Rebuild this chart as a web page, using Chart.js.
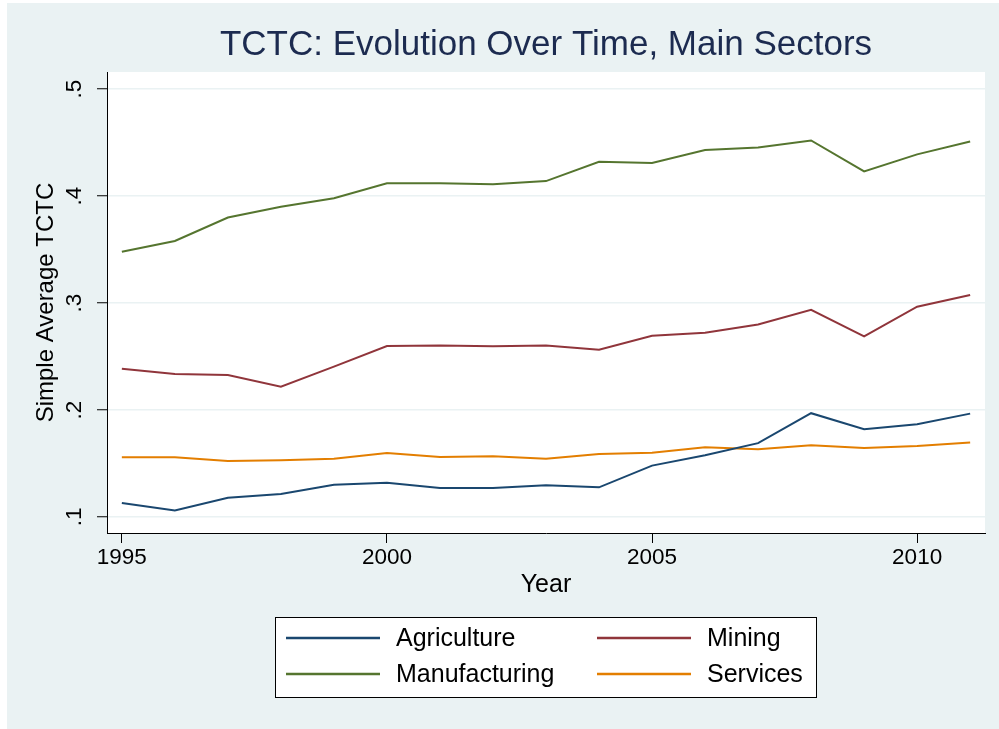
<!DOCTYPE html>
<html>
<head>
<meta charset="utf-8">
<script src="https://cdn.jsdelivr.net/npm/chart.js@4.4.1/dist/chart.umd.min.js"></script>
<style>
  body { margin: 0; background: #fff; }
  canvas { display: block; }
</style>
</head>
<body>
<canvas id="tctcChart" width="999" height="729"></canvas>
<script>
// data
const years = [1995, 1996, 1997, 1998, 1999, 2000, 2001, 2002, 2003, 2004, 2005, 2006, 2007, 2008, 2009, 2010, 2011];
const agriculture = [0.113, 0.106, 0.118, 0.1215, 0.130, 0.132, 0.127, 0.127, 0.1296, 0.1277, 0.148, 0.1576, 0.169, 0.197, 0.182, 0.1866, 0.1966];
const mining = [0.2386, 0.2336, 0.2327, 0.2218, 0.2405, 0.2598, 0.2604, 0.2595, 0.2604, 0.2564, 0.2694, 0.2722, 0.280, 0.2937, 0.2689, 0.2966, 0.3075];
const manufacturing = [0.348, 0.358, 0.380, 0.390, 0.398, 0.412, 0.412, 0.411, 0.414, 0.432, 0.431, 0.443, 0.4455, 0.452, 0.423, 0.439, 0.451];
const services = [0.1558, 0.1558, 0.1523, 0.153, 0.1545, 0.1598, 0.156, 0.1567, 0.1545, 0.1589, 0.160, 0.1651, 0.1633, 0.167, 0.1645, 0.1664, 0.1695];

const xTicks = [1995, 2000, 2005, 2010];
const yTicks = [0.1, 0.2, 0.3, 0.4, 0.5];

const FONT = '"Liberation Sans", Arial, sans-serif';
const BG = '#eaf2f3';

const toPoints = vals => vals.map((v, i) => ({ x: years[i], y: v }));

// background: light outer region, white plot region
const backdrop = {
    id: 'backdrop',
    beforeDraw(chart) {
        const { ctx, chartArea: a } = chart;
        ctx.save();
        ctx.fillStyle = '#ffffff';
        ctx.fillRect(0, 0, chart.width, chart.height);
        ctx.fillStyle = BG;
        ctx.fillRect(7, 3, chart.width - 7, chart.height - 3);
        ctx.fillStyle = '#ffffff';
        ctx.fillRect(a.left, a.top, a.right - a.left, a.bottom - a.top);
        ctx.restore();
    }
};

// stata-like boxed legend, 2 columns
const boxLegend = {
    id: 'boxLegend',
    afterDraw(chart) {
        const { ctx } = chart;
        const sets = chart.data.datasets;
        ctx.save();
        ctx.fillStyle = '#ffffff';
        ctx.fillRect(275, 617, 541, 80);
        ctx.strokeStyle = '#000';
        ctx.lineWidth = 1;
        ctx.strokeRect(275.5, 617.5, 541, 80);
        ctx.font = '25px ' + FONT;
        ctx.textBaseline = 'middle';
        sets.forEach((ds, i) => {
            const col = i % 2, row = Math.floor(i / 2);
            const x0 = 286 + col * 311;
            const y = 638 + row * 36;
            ctx.strokeStyle = ds.borderColor;
            ctx.lineWidth = 2.5;
            ctx.beginPath();
            ctx.moveTo(x0, y);
            ctx.lineTo(x0 + 94, y);
            ctx.stroke();
            ctx.fillStyle = '#000';
            ctx.fillText(ds.label, x0 + 110, y + 1);
        });
        ctx.restore();
    }
};

new Chart(document.getElementById('tctcChart'), {
    type: 'line',
    data: {
        datasets: [
            { label: 'Agriculture', data: toPoints(agriculture), borderColor: '#1a476f' },
            { label: 'Mining', data: toPoints(mining), borderColor: '#90353b' },
            { label: 'Manufacturing', data: toPoints(manufacturing), borderColor: '#55752f' },
            { label: 'Services', data: toPoints(services), borderColor: '#e37e00' }
        ]
    },
    options: {
        responsive: false,
        animation: false,
        devicePixelRatio: 1,
        layout: { padding: { left: 0, right: 14, top: 0, bottom: 129 } },
        elements: {
            line: { borderWidth: 2, tension: 0, fill: false },
            point: { radius: 0 }
        },
        plugins: {
            legend: { display: false },
            tooltip: { enabled: false },
            title: {
                display: true,
                fullSize: false,
                text: 'TCTC: Evolution Over Time, Main Sectors',
                color: '#1c2b50',
                font: { family: FONT, size: 35, weight: 'normal' },
                padding: { top: 24, bottom: 6 }
            }
        },
        scales: {
            x: {
                type: 'linear',
                min: 1994.72,
                max: 2011.28,
                afterBuildTicks: s => { s.ticks = xTicks.map(v => ({ value: v })); },
                afterFit: s => { s.height = 67; },
                ticks: {
                    color: '#000',
                    font: { family: FONT, size: 22.5 },
                    padding: 1,
                    maxRotation: 0,
                    callback: v => String(v)
                },
                grid: { drawOnChartArea: false, tickColor: '#000', tickLength: 10, tickWidth: 1 },
                border: { color: '#000', width: 1 },
                title: {
                    display: true,
                    text: 'Year',
                    color: '#000',
                    font: { family: FONT, size: 25 },
                    padding: { top: 0, bottom: 0 }
                }
            },
            y: {
                type: 'linear',
                min: 0.085,
                max: 0.516,
                afterBuildTicks: s => { s.ticks = yTicks.map(v => ({ value: v })); },
                afterFit: s => { s.width = 107; },
                ticks: {
                    color: '#000',
                    font: { family: FONT, size: 22.5 },
                    minRotation: 90,
                    maxRotation: 90,
                    crossAlign: 'center',
                    padding: 12.6,
                    callback: v => String(v).replace(/^0/, '')
                },
                grid: { color: BG, lineWidth: 1.5, tickColor: '#000', tickLength: 10, tickWidth: 1 },
                border: { color: '#000', width: 1 },
                title: {
                    display: true,
                    text: 'Simple Average TCTC',
                    color: '#000',
                    font: { family: FONT, size: 24 },
                    padding: { top: 31.6, bottom: 0 }
                }
            }
        }
    },
    plugins: [backdrop, boxLegend]
});
</script>
</body>
</html>
